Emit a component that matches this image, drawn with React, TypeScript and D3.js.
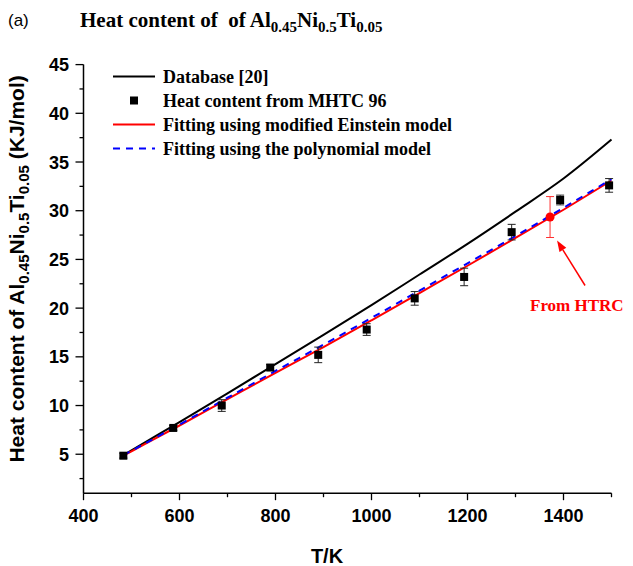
import React from "react";
import * as d3 from "d3";

// ---- data ----
const curveT = [483, 500, 600, 700, 800, 900, 1000, 1100, 1200, 1300, 1400, 1500];
const databaseH = [4.9, 5.4, 8.3, 11.25, 14.25, 17.25, 20.3, 23.45, 26.6, 29.9, 33.3, 37.3];
const einsteinH = [4.85, 5.3, 7.95, 10.65, 13.35, 16.0, 18.75, 21.55, 24.35, 27.2, 30.1, 33.1];
const polyH = [4.9, 5.35, 8.05, 10.8, 13.55, 16.25, 19.0, 21.8, 24.6, 27.4, 30.3, 33.25];

const mhtcT = [483, 587, 688, 789, 889, 990, 1090, 1193, 1292, 1393, 1495];
const mhtcH = [4.85, 7.7, 10.0, 13.9, 15.2, 17.8, 21.0, 23.2, 27.8, 31.1, 32.6];
const mhtcErr = [0.25, 0.25, 0.6, 0.3, 0.8, 0.6, 0.7, 0.9, 0.8, 0.5, 0.7];

const htrcT = [1372];
const htrcH = [29.35];
const htrcErr = [2.1];

const xMajorTicks = [400, 600, 800, 1000, 1200, 1400];
const xMinorTicks = [500, 700, 900, 1100, 1300, 1500];
const yMajorTicks = [5, 10, 15, 20, 25, 30, 35, 40, 45];
const yMinorTicks = [2.5, 7.5, 12.5, 17.5, 22.5, 27.5, 32.5, 37.5, 42.5];

const legendLabels = [
  "Database [20]",
  "Heat content from MHTC 96",
  "Fitting using modified Einstein model",
  "Fitting using the polynomial model",
];

const SANS = "'Liberation Sans', Arial, sans-serif";
const SERIF = "'Liberation Serif', 'Times New Roman', serif";

export default function App() {
  const W = 633, H = 566;
  const x = d3.scaleLinear().domain([400, 1500]).range([83.5, 611.5]);
  const y = d3.scaleLinear().domain([1, 45]).range([493.2, 64.6]);

  const line = (vals: number[]) =>
    d3
      .line<number>()
      .x((_, i) => x(curveT[i]))
      .y((v) => y(v))
      .curve(d3.curveMonotoneX)(vals) as string;

  const x0 = x.range()[0], x1 = x.range()[1];
  const y0 = y.range()[0], y1 = y.range()[1];

  const tipX = x(htrcT[0]) + 7;
  const tipY = y(htrcH[0] - htrcErr[0]) + 3;
  const tailX = tipX + 28;
  const tailY = tipY + 45;
  const ang = Math.atan2(tipY - tailY, tipX - tailX);
  const ah = 11, aw = 4;
  const hx = tipX - ah * Math.cos(ang), hy = tipY - ah * Math.sin(ang);
  const arrowHead = [
    [tipX, tipY],
    [hx + aw * Math.sin(ang), hy - aw * Math.cos(ang)],
    [hx - aw * Math.sin(ang), hy + aw * Math.cos(ang)],
  ]
    .map((p) => p.join(","))
    .join(" ");

  const legX = 113, legTextX = 163, legY0 = 76.5, legDY = 24;

  return (
    <div style={{ position: "absolute", left: 0, top: 0 }}>
      <svg width={W} height={H} style={{ display: "block", background: "#fff" }}>
        {/* title */}
        <text x={8} y={26} fontFamily={SANS} fontSize={17}>(a)</text>
        <text x={80} y={27} fontFamily={SERIF} fontWeight="bold" fontSize={21} style={{ whiteSpace: "pre" }}>
          {"Heat content of  of Al"}
          <tspan fontSize={15} dy={5}>0.45</tspan>
          <tspan dy={-5}>Ni</tspan>
          <tspan fontSize={15} dy={5}>0.5</tspan>
          <tspan dy={-5}>Ti</tspan>
          <tspan fontSize={15} dy={5}>0.05</tspan>
        </text>

        {/* axes */}
        <line x1={x0} x2={x1} y1={y0} y2={y0} stroke="#000" strokeWidth={1.5} />
        <line x1={x0} x2={x0} y1={y0} y2={y1} stroke="#000" strokeWidth={1.5} />
        {xMajorTicks.map((t) => (
          <g key={"xm" + t}>
            <line x1={x(t)} x2={x(t)} y1={y0} y2={y0 + 7} stroke="#000" strokeWidth={1.3} />
            <text x={x(t)} y={522} textAnchor="middle" fontFamily={SANS} fontWeight="bold" fontSize={18}>{t}</text>
          </g>
        ))}
        {xMinorTicks.map((t) => (
          <line key={"xn" + t} x1={x(t)} x2={x(t)} y1={y0} y2={y0 + 4} stroke="#000" strokeWidth={1.3} />
        ))}
        {yMajorTicks.map((t) => (
          <g key={"ym" + t}>
            <line x1={x0 - 8} x2={x0} y1={y(t)} y2={y(t)} stroke="#000" strokeWidth={1.3} />
            <text x={69} y={y(t) + 6.5} textAnchor="end" fontFamily={SANS} fontWeight="bold" fontSize={18}>{t}</text>
          </g>
        ))}
        {yMinorTicks.map((t) => (
          <line key={"yn" + t} x1={x0 - 4} x2={x0} y1={y(t)} y2={y(t)} stroke="#000" strokeWidth={1.3} />
        ))}

        {/* axis titles */}
        <text x={327} y={563} textAnchor="middle" fontFamily={SANS} fontWeight="bold" fontSize={20}>T/K</text>
        <text
          transform={`translate(24,${(y0 + y1) / 2 - 10}) rotate(-90)`}
          textAnchor="middle"
          fontFamily={SANS}
          fontWeight="bold"
          fontSize={21}
        >
          {"Heat content of Al"}
          <tspan fontSize={15} dy={5}>0.45</tspan>
          <tspan dy={-5}>Ni</tspan>
          <tspan fontSize={15} dy={5}>0.5</tspan>
          <tspan dy={-5}>Ti</tspan>
          <tspan fontSize={15} dy={5}>0.05</tspan>
          <tspan dy={-5}>{" (KJ/mol)"}</tspan>
        </text>

        {/* curves */}
        <path d={line(databaseH)} fill="none" stroke="#000" strokeWidth={2} />
        <path d={line(einsteinH)} fill="none" stroke="#ff0000" strokeWidth={2} />
        <path d={line(polyH)} fill="none" stroke="#0000ff" strokeWidth={2} strokeDasharray="7,6" />

        {/* MHTC points */}
        {mhtcT.map((t, i) => {
          const cx = x(t), cy = y(mhtcH[i]);
          const ya = y(mhtcH[i] + mhtcErr[i]), yb = y(mhtcH[i] - mhtcErr[i]);
          return (
            <g key={"p" + i}>
              <line x1={cx} x2={cx} y1={ya} y2={yb} stroke="#222" strokeWidth={1} />
              <line x1={cx - 4} x2={cx + 4} y1={ya} y2={ya} stroke="#222" strokeWidth={1} />
              <line x1={cx - 4} x2={cx + 4} y1={yb} y2={yb} stroke="#222" strokeWidth={1} />
              <rect x={cx - 4} y={cy - 4} width={8} height={8} fill="#000" />
            </g>
          );
        })}

        {/* HTRC point */}
        {htrcT.map((t, i) => {
          const cx = x(t), cy = y(htrcH[i]);
          const ya = y(htrcH[i] + htrcErr[i]), yb = y(htrcH[i] - htrcErr[i]);
          return (
            <g key={"h" + i}>
              <line x1={cx} x2={cx} y1={ya} y2={yb} stroke="#ff3030" strokeWidth={1} />
              <line x1={cx - 4} x2={cx + 4} y1={ya} y2={ya} stroke="#ff3030" strokeWidth={1} />
              <line x1={cx - 4} x2={cx + 4} y1={yb} y2={yb} stroke="#ff3030" strokeWidth={1} />
              <circle cx={cx} cy={cy} r={4.5} fill="#ff0000" />
            </g>
          );
        })}

        {/* annotation */}
        <line x1={tailX} y1={tailY} x2={hx} y2={hy} stroke="#ff0000" strokeWidth={1.5} />
        <polygon points={arrowHead} fill="#ff0000" />
        <text x={530} y={310.5} fontFamily={SERIF} fontWeight="bold" fontSize={17} fill="#ff0000">From HTRC</text>

        {/* legend */}
        <line x1={legX} x2={legX + 42} y1={legY0} y2={legY0} stroke="#000" strokeWidth={2} />
        <rect x={134 - 4} y={legY0 + legDY - 4} width={8} height={8} fill="#000" />
        <line x1={legX} x2={legX + 42} y1={legY0 + 2 * legDY} y2={legY0 + 2 * legDY} stroke="#ff0000" strokeWidth={2} />
        <line x1={legX} x2={legX + 42} y1={legY0 + 3 * legDY} y2={legY0 + 3 * legDY} stroke="#0000ff" strokeWidth={2} strokeDasharray="7,6" />
        {legendLabels.map((l, i) => (
          <text key={l} x={legTextX} y={legY0 + i * legDY + 6} fontFamily={SERIF} fontWeight="bold" fontSize={18}>{l}</text>
        ))}
      </svg>
    </div>
  );
}
